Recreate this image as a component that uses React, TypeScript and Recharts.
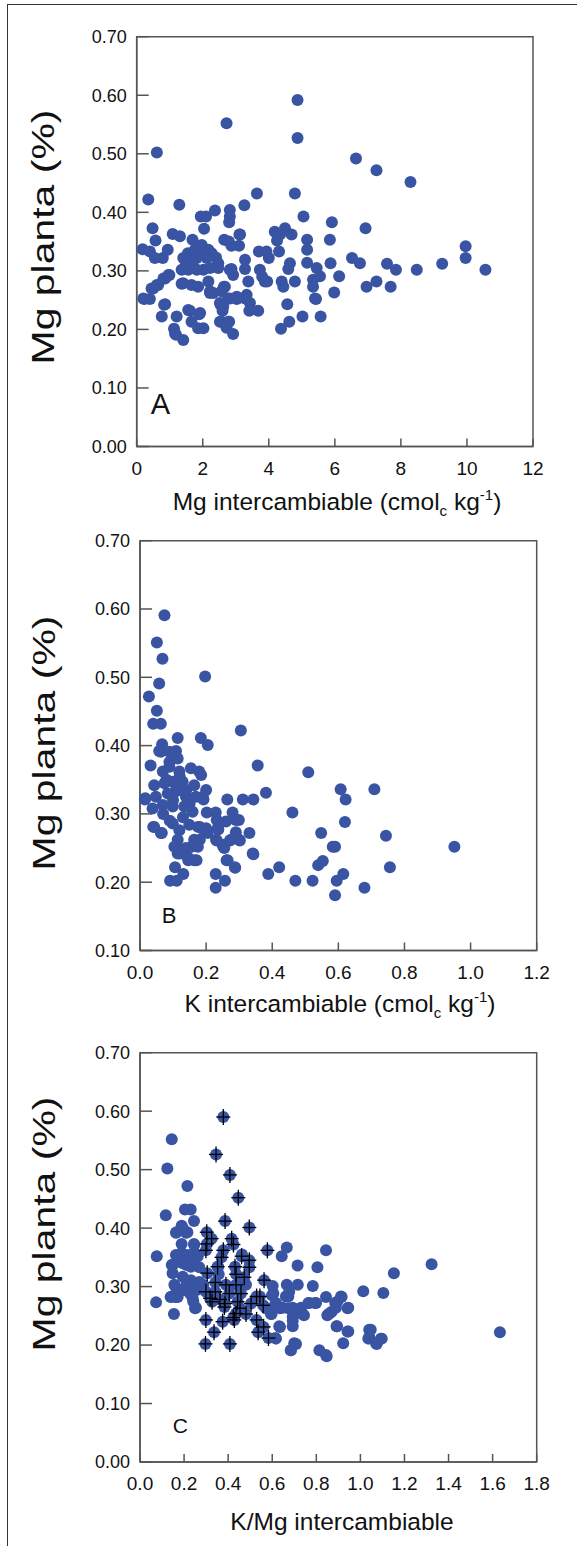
import { ScatterChart, Scatter, XAxis, YAxis, ReferenceArea, Label } from "recharts";

const DOT = "#3a54a4";
const AXIS = "#555";
const FONT = "'Liberation Sans', Arial, sans-serif";

// Panel A: Mg intercambiable vs Mg planta
const mgPoints = [
  [4.87, 0.592], [2.72, 0.552], [4.87, 0.527], [0.61, 0.502], [6.64, 0.492], [7.26, 0.472], [8.29, 0.452],
  [0.35, 0.422], [3.64, 0.432], [4.79, 0.432], [1.29, 0.413], [3.26, 0.412], [2.37, 0.403], [2.82, 0.404],
  [1.94, 0.393], [2.1, 0.393], [2.82, 0.393], [5.05, 0.393], [2.8, 0.383], [5.91, 0.383],
  [0.48, 0.373], [2.04, 0.372], [6.93, 0.373],
  [1.09, 0.363], [1.31, 0.359], [3.11, 0.362], [4.18, 0.367], [4.49, 0.373], [4.34, 0.362], [4.69, 0.362], [4.25, 0.352],
  [0.57, 0.352], [1.69, 0.353], [2.65, 0.353], [2.79, 0.35], [3.13, 0.362], [5.16, 0.353], [5.85, 0.353],
  [3.1, 0.343], [2.87, 0.343],
  [0.18, 0.337], [0.4, 0.333], [0.55, 0.322], [0.79, 0.322], [0.94, 0.336],
  [1.82, 0.342], [1.97, 0.344], [2.17, 0.336], [2.27, 0.33], [2.4, 0.323], [2.47, 0.313], [2.12, 0.322],
  [1.55, 0.33], [1.75, 0.335], [2.0, 0.33],
  [3.7, 0.333], [3.93, 0.333], [4.31, 0.333], [3.28, 0.319], [4.0, 0.322],
  [5.16, 0.336], [5.16, 0.314],
  [9.96, 0.342], [9.96, 0.322], [6.52, 0.322], [6.76, 0.313], [7.58, 0.312], [9.25, 0.312], [7.85, 0.302], [8.48, 0.302], [10.56, 0.302],
  [5.87, 0.313], [6.13, 0.291], [5.98, 0.263], [5.57, 0.222], [5.02, 0.222], [5.43, 0.252],
  [5.45, 0.305], [5.55, 0.291], [5.34, 0.285], [5.34, 0.273], [5.4, 0.253],
  [6.96, 0.273], [7.26, 0.282], [7.69, 0.273],
  [4.64, 0.313], [4.59, 0.303], [4.79, 0.282], [4.39, 0.282], [4.44, 0.273], [4.56, 0.243], [4.62, 0.213], [4.37, 0.201],
  [3.73, 0.302], [3.88, 0.282], [3.95, 0.282], [3.8, 0.29], [3.38, 0.282], [3.28, 0.303], [3.33, 0.259], [3.43, 0.245], [3.68, 0.232], [3.41, 0.232],
  [3.03, 0.252], [2.87, 0.303], [2.92, 0.293], [2.64, 0.273], [2.77, 0.253], [2.54, 0.242], [2.6, 0.232], [2.52, 0.213], [2.8, 0.213], [2.72, 0.203], [2.92, 0.192],
  [2.17, 0.282], [2.22, 0.262], [1.92, 0.228], [2.02, 0.202], [1.86, 0.202], [1.61, 0.232], [1.66, 0.213], [1.36, 0.278], [1.21, 0.222], [1.13, 0.201], [1.19, 0.191], [1.41, 0.182],
  [0.76, 0.222], [0.86, 0.243], [0.23, 0.252], [0.4, 0.252], [0.5, 0.27], [0.65, 0.276], [0.86, 0.287], [0.99, 0.293],
  [1.41, 0.322], [1.61, 0.322], [1.82, 0.322], [1.49, 0.31], [1.71, 0.307], [1.36, 0.302], [1.56, 0.302], [1.82, 0.302], [2.02, 0.302],
  [2.22, 0.305], [2.47, 0.305], [2.82, 0.302], [1.41, 0.279], [1.66, 0.276], [1.86, 0.273], [2.22, 0.265], [2.32, 0.262], [2.57, 0.265],
  [2.67, 0.273], [2.82, 0.253], [3.03, 0.256], [3.28, 0.253], [2.52, 0.245], [2.62, 0.239], [2.57, 0.213], [2.77, 0.213], [1.56, 0.233],
  [1.89, 0.226], [1.16, 0.193], [0.83, 0.242], [0.2, 0.253], [0.45, 0.27], [0.61, 0.276], [0.81, 0.287], [0.96, 0.293],
];

// Panel B: K intercambiable vs Mg planta
const kPoints = [
  [0.074, 0.591], [0.051, 0.551], [0.068, 0.527], [0.058, 0.491], [0.197, 0.501], [0.027, 0.472], [0.051, 0.451], [0.04, 0.432], [0.063, 0.432],
  [0.305, 0.422], [0.114, 0.411], [0.184, 0.411], [0.205, 0.401], [0.067, 0.402],
  [0.356, 0.371], [0.509, 0.361], [0.032, 0.371],
  [0.058, 0.392], [0.109, 0.392], [0.114, 0.381], [0.063, 0.391], [0.089, 0.391],
  [0.089, 0.376], [0.089, 0.369], [0.069, 0.362], [0.119, 0.362], [0.154, 0.367], [0.179, 0.362], [0.185, 0.357],
  [0.043, 0.342], [0.074, 0.345], [0.099, 0.347], [0.129, 0.347], [0.164, 0.342], [0.2, 0.335],
  [0.016, 0.323], [0.048, 0.325], [0.084, 0.33], [0.109, 0.333], [0.139, 0.325], [0.169, 0.325], [0.19, 0.325],
  [0.08, 0.35], [0.12, 0.355], [0.14, 0.335], [0.1, 0.32], [0.13, 0.295], [0.07, 0.3], [0.15, 0.315], [0.11, 0.34], [0.09, 0.29],
  [0.607, 0.336], [0.709, 0.336], [0.622, 0.321], [0.461, 0.302], [0.62, 0.288], [0.548, 0.272], [0.744, 0.268], [0.59, 0.252], [0.951, 0.252],
  [0.553, 0.231], [0.539, 0.225], [0.756, 0.222], [0.421, 0.222], [0.615, 0.212], [0.595, 0.202], [0.47, 0.202], [0.522, 0.202], [0.388, 0.212], [0.679, 0.192], [0.59, 0.181],
  [0.381, 0.331], [0.264, 0.321], [0.311, 0.321], [0.343, 0.321],
  [0.229, 0.302], [0.28, 0.302], [0.29, 0.291], [0.232, 0.291], [0.237, 0.277], [0.29, 0.273], [0.331, 0.272],
  [0.302, 0.261], [0.272, 0.261], [0.252, 0.252], [0.232, 0.261], [0.262, 0.232], [0.287, 0.222], [0.343, 0.241],
  [0.229, 0.212], [0.257, 0.202], [0.229, 0.192],
  [0.106, 0.222], [0.131, 0.212], [0.091, 0.202], [0.111, 0.202],
  [0.015, 0.321], [0.04, 0.281], [0.066, 0.272], [0.202, 0.302], [0.192, 0.321],
  [0.181, 0.281], [0.181, 0.262], [0.171, 0.232], [0.146, 0.232], [0.156, 0.252], [0.121, 0.242], [0.111, 0.252], [0.195, 0.276], [0.205, 0.272],
  [0.038, 0.308], [0.069, 0.313], [0.099, 0.311], [0.134, 0.311], [0.159, 0.303], [0.299, 0.291],
  [0.043, 0.281], [0.063, 0.272], [0.099, 0.286], [0.119, 0.276], [0.149, 0.284], [0.175, 0.281], [0.2, 0.279],
  [0.235, 0.279], [0.26, 0.289],
  [0.114, 0.262], [0.164, 0.262], [0.195, 0.274], [0.23, 0.262], [0.25, 0.255], [0.275, 0.262], [0.3, 0.262],
  [0.104, 0.252], [0.139, 0.25], [0.175, 0.252], [0.255, 0.25], [0.583, 0.252],
  [0.114, 0.242], [0.144, 0.237], [0.164, 0.232], [0.341, 0.242],
  [0.265, 0.232], [0.288, 0.221],
];

// Panel C: K/Mg intercambiable vs Mg planta (plain points)
const ratioPoints = [
  [0.144, 0.552], [0.124, 0.502], [0.215, 0.472], [0.204, 0.432], [0.23, 0.432], [0.117, 0.422], [0.245, 0.412],
  [0.189, 0.404], [0.166, 0.393], [0.215, 0.393], [0.189, 0.373], [0.245, 0.373], [0.076, 0.352],
  [0.666, 0.367], [0.643, 0.352], [0.844, 0.362], [0.715, 0.336], [0.805, 0.333], [1.323, 0.338], [1.152, 0.323], [1.013, 0.292], [1.104, 0.289],
  [0.144, 0.337], [0.197, 0.348], [0.212, 0.337], [0.235, 0.34], [0.189, 0.357], [0.246, 0.358],
  [0.355, 0.334], [0.602, 0.301], [0.666, 0.303], [0.716, 0.303], [0.784, 0.301],
  [0.073, 0.273], [0.159, 0.282], [0.139, 0.282], [0.844, 0.282], [0.915, 0.282], [0.945, 0.264],
  [1.633, 0.222], [0.895, 0.274], [0.87, 0.257], [0.85, 0.251],
  [0.794, 0.272], [0.764, 0.272], [0.744, 0.251], [0.726, 0.262], [0.892, 0.232], [0.945, 0.223], [0.922, 0.203],
  [1.047, 0.226], [1.036, 0.211], [1.074, 0.202], [1.097, 0.211], [0.814, 0.191], [0.847, 0.181], [0.684, 0.191], [0.708, 0.202],
  [0.617, 0.211], [0.635, 0.231], [0.693, 0.232], [0.693, 0.241],
  [0.597, 0.253], [0.612, 0.268], [0.635, 0.263], [0.673, 0.263], [0.673, 0.283], [0.605, 0.288], [0.572, 0.263],
  [0.154, 0.253], [0.166, 0.282], [0.25, 0.263], [0.242, 0.274],
  [0.159, 0.301], [0.197, 0.294], [0.227, 0.288], [0.257, 0.294], [0.287, 0.303], [0.212, 0.303], [0.272, 0.303],
  [0.163, 0.392], [0.209, 0.392], [0.194, 0.4], [0.246, 0.371],
  [0.163, 0.354], [0.216, 0.354], [0.262, 0.352], [0.463, 0.355],
  [0.151, 0.338], [0.194, 0.34], [0.231, 0.334], [0.269, 0.333], [0.357, 0.321],
  [0.148, 0.323], [0.194, 0.317], [0.231, 0.311], [0.269, 0.308],
  [0.156, 0.303], [0.209, 0.3], [0.246, 0.3], [0.481, 0.303],
  [0.599, 0.285], [0.662, 0.283], [0.677, 0.291],
  [0.145, 0.283], [0.171, 0.282], [0.239, 0.28], [0.254, 0.264],
  [0.617, 0.272], [0.647, 0.264], [0.693, 0.264], [0.731, 0.264], [0.768, 0.272], [0.799, 0.272],
  [0.886, 0.272], [0.912, 0.283], [0.942, 0.263],
  [0.594, 0.253], [0.693, 0.248], [0.738, 0.253], [0.859, 0.254], [0.889, 0.264],
  [0.632, 0.232], [0.894, 0.232], [0.942, 0.223],
  [0.614, 0.212], [0.7, 0.203], [0.685, 0.191], [0.844, 0.183],
  [1.04, 0.226], [1.04, 0.214], [1.093, 0.211], [1.071, 0.203],
];

// Panel C: points marked with a cross
const ratioMarked = [
  [0.378, 0.59], [0.345, 0.526], [0.408, 0.491], [0.446, 0.452], [0.386, 0.412], [0.496, 0.401],
  [0.303, 0.393], [0.325, 0.382], [0.416, 0.382], [0.424, 0.372], [0.303, 0.373], [0.299, 0.362],
  [0.578, 0.362], [0.378, 0.362], [0.37, 0.35], [0.461, 0.352], [0.496, 0.345], [0.496, 0.333], [0.431, 0.334], [0.352, 0.334],
  [0.305, 0.323], [0.436, 0.321], [0.473, 0.316], [0.563, 0.311],
  [0.342, 0.307], [0.39, 0.303], [0.436, 0.303], [0.299, 0.291], [0.342, 0.291], [0.405, 0.288], [0.458, 0.288],
  [0.529, 0.283], [0.544, 0.283], [0.318, 0.28], [0.363, 0.278],
  [0.327, 0.274], [0.443, 0.274], [0.386, 0.271], [0.504, 0.271], [0.559, 0.268], [0.383, 0.265], [0.454, 0.263],
  [0.436, 0.254], [0.481, 0.253], [0.423, 0.247],
  [0.299, 0.243], [0.375, 0.24], [0.428, 0.243], [0.529, 0.243], [0.561, 0.231],
  [0.336, 0.222], [0.536, 0.222], [0.583, 0.212], [0.297, 0.202], [0.408, 0.202],
];

const yTicks07 = [0, 0.1, 0.2, 0.3, 0.4, 0.5, 0.6, 0.7];
const yTicksB = [0.1, 0.2, 0.3, 0.4, 0.5, 0.6, 0.7];
const xTicksA = [0, 2, 4, 6, 8, 10, 12];
const xTicksB = [0, 0.2, 0.4, 0.6, 0.8, 1.0, 1.2];
const xTicksC = [0, 0.2, 0.4, 0.6, 0.8, 1.0, 1.2, 1.4, 1.6, 1.8];

const toXY = (pts: number[][]) => pts.map(([x, y]) => ({ x, y }));

const Y_GAP = 10;
const X_GAP = 15;

function YTick({ x, y, payload }: any) {
  return (
    <g>
      <line x1={x + Y_GAP} x2={x + Y_GAP + 12} y1={y} y2={y} stroke={AXIS} strokeWidth={1.5} />
      <text x={x} y={y} dy="0.355em" textAnchor="end" fontSize={18} fontFamily={FONT} fill="#111">
        {Number(payload.value).toFixed(2)}
      </text>
    </g>
  );
}

function makeXTick(digits: number) {
  return function XTick({ x, y, payload }: any) {
    return (
      <g>
        <line x1={x} x2={x} y1={y - X_GAP} y2={y - X_GAP - 8} stroke={AXIS} strokeWidth={1.5} />
        <text x={x} y={y} dy="0.71em" textAnchor="middle" fontSize={19} fontFamily={FONT} fill="#111">
          {Number(payload.value).toFixed(digits)}
        </text>
      </g>
    );
  };
}

const dotShape = (p: any) => <circle cx={p.cx} cy={p.cy} r={6} fill={DOT} />;
const crossShape = (p: any) => (
  <g stroke="#000" strokeWidth={1.3}>
    <line x1={p.cx - 7} x2={p.cx + 7} y1={p.cy} y2={p.cy} />
    <line x1={p.cx} x2={p.cx} y1={p.cy - 8} y2={p.cy + 8} />
  </g>
);

// the source figure's y title is stretched along its reading direction
function yTitle(cx: number, cy: number) {
  return () => (
    <text
      x={cx}
      y={cy}
      transform={`rotate(-90 ${cx} ${cy})`}
      textAnchor="middle"
      fontSize={32}
      textLength={255}
      lengthAdjust="spacingAndGlyphs"
      fontFamily={FONT}
      fill="#111"
    >
      Mg planta (%)
    </text>
  );
}

function unitTitle(name: string, cx: number, cy: number) {
  return () => (
    <text x={cx} y={cy} textAnchor="middle" fontSize={24.5} fontFamily={FONT} fill="#111">
      {name} (cmol
      <tspan fontSize={15} dy={6}>c</tspan>
      <tspan dy={-6}> kg</tspan>
      <tspan fontSize={15} dy={-10}>-1</tspan>
      <tspan dy={10}>)</tspan>
    </text>
  );
}

function plainTitle(name: string, cx: number, cy: number) {
  return () => (
    <text x={cx} y={cy} textAnchor="middle" fontSize={24.5} fontFamily={FONT} fill="#111">
      {name}
    </text>
  );
}

function letter(ch: string, dx: number, dy: number, size: number) {
  return (props: any) => {
    const vb = props.viewBox || {};
    return (
      <text x={vb.x + dx} y={vb.y + vb.height - dy} fontSize={size} fontFamily={FONT} fill="#111">
        {ch}
      </text>
    );
  };
}

export default function App() {
  return (
    <div style={{ position: "absolute", left: 0, top: 0, width: 577, height: 1546, background: "#fff", overflow: "hidden" }}>
      <div
        style={{
          position: "absolute",
          left: 7,
          top: 4,
          width: 600,
          height: 1600,
          borderLeft: "1.5px solid #333",
          borderTop: "1.5px solid #333",
        }}
      />

      <div style={{ position: "absolute", left: 0, top: 0 }}>
        <ScatterChart width={577} height={525} margin={{ top: 36.7, right: 44, bottom: 0, left: 0 }}>
          <XAxis
            type="number"
            dataKey="x"
            domain={[0, 12]}
            ticks={xTicksA}
            height={78.5}
            tickSize={0}
            tickMargin={X_GAP}
            tickLine={false}
            tick={makeXTick(0)}
            axisLine={{ stroke: AXIS, strokeWidth: 1.5 }}
            interval={0}
          >
            <Label content={unitTitle("Mg intercambiable", 337, 510)} />
          </XAxis>
          <YAxis
            type="number"
            dataKey="y"
            domain={[0, 0.7]}
            ticks={yTicks07}
            width={136.7}
            tickSize={0}
            tickMargin={Y_GAP}
            tickLine={false}
            tick={YTick}
            axisLine={{ stroke: AXIS, strokeWidth: 1.5 }}
            interval={0}
          >
            <Label content={yTitle(54, 237)} />
          </YAxis>
          <ReferenceArea x1={0} x2={12} y1={0} y2={0.7} fill="none" stroke={AXIS} strokeWidth={1.5}>
            <Label content={letter("A", 14, 32.5, 29)} />
          </ReferenceArea>
          <Scatter data={toXY(mgPoints)} shape={dotShape} isAnimationActive={false} />
        </ScatterChart>
      </div>

      <div style={{ position: "absolute", left: 0, top: 525 }}>
        <ScatterChart width={577} height={505} margin={{ top: 15.7, right: 40.3, bottom: 0, left: 0 }}>
          <XAxis
            type="number"
            dataKey="x"
            domain={[0, 1.2]}
            ticks={xTicksB}
            height={79.5}
            tickSize={0}
            tickMargin={X_GAP}
            tickLine={false}
            tick={makeXTick(1)}
            axisLine={{ stroke: AXIS, strokeWidth: 1.5 }}
            interval={0}
          >
            <Label content={unitTitle("K intercambiable", 340, 486.7)} />
          </XAxis>
          <YAxis
            type="number"
            dataKey="y"
            domain={[0.1, 0.7]}
            ticks={yTicksB}
            width={140}
            tickSize={0}
            tickMargin={Y_GAP}
            tickLine={false}
            tick={YTick}
            axisLine={{ stroke: AXIS, strokeWidth: 1.5 }}
            interval={0}
          >
            <Label content={yTitle(55, 218)} />
          </YAxis>
          <ReferenceArea x1={0} x2={1.2} y1={0.1} y2={0.7} fill="none" stroke={AXIS} strokeWidth={1.5}>
            <Label content={letter("B", 21.7, 27.2, 22)} />
          </ReferenceArea>
          <Scatter data={toXY(kPoints)} shape={dotShape} isAnimationActive={false} />
        </ScatterChart>
      </div>

      <div style={{ position: "absolute", left: 0, top: 1030 }}>
        <ScatterChart width={577} height={516} margin={{ top: 22.7, right: 40.3, bottom: 0, left: 0 }}>
          <XAxis
            type="number"
            dataKey="x"
            domain={[0, 1.8]}
            ticks={xTicksC}
            height={84}
            tickSize={0}
            tickMargin={X_GAP}
            tickLine={false}
            tick={makeXTick(1)}
            axisLine={{ stroke: AXIS, strokeWidth: 1.5 }}
            interval={0}
          >
            <Label content={plainTitle("K/Mg intercambiable", 342, 500)} />
          </XAxis>
          <YAxis
            type="number"
            dataKey="y"
            domain={[0, 0.7]}
            ticks={yTicks07}
            width={140}
            tickSize={0}
            tickMargin={Y_GAP}
            tickLine={false}
            tick={YTick}
            axisLine={{ stroke: AXIS, strokeWidth: 1.5 }}
            interval={0}
          >
            <Label content={yTitle(55, 194)} />
          </YAxis>
          <ReferenceArea x1={0} x2={1.8} y1={0} y2={0.7} fill="none" stroke={AXIS} strokeWidth={1.5}>
            <Label content={letter("C", 32.7, 28.7, 21)} />
          </ReferenceArea>
          <Scatter data={toXY(ratioPoints)} shape={dotShape} isAnimationActive={false} />
          <Scatter data={toXY(ratioMarked)} shape={dotShape} isAnimationActive={false} />
          <Scatter data={toXY(ratioMarked)} shape={crossShape} isAnimationActive={false} />
        </ScatterChart>
      </div>
    </div>
  );
}
